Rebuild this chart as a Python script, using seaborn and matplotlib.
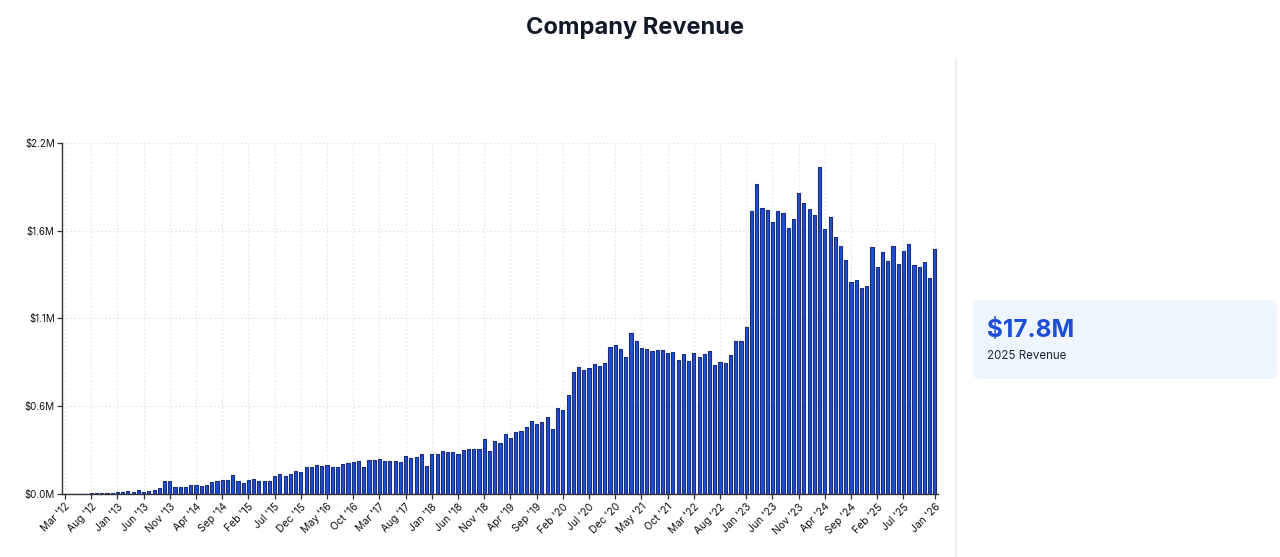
import matplotlib
matplotlib.use("Agg")
import matplotlib.pyplot as plt
from matplotlib.patches import FancyBboxPatch
import seaborn as sns
import pandas as pd

# monthly revenue, Mar 2012 .. Jan 2026, in $M
months = pd.date_range("2012-03-01", "2026-01-01", freq="MS").strftime("%b '%y").tolist()
revenue = [
    0.001, 0.001, 0.002, 0.002, 0.003, 0.004, 0.004, 0.006, 0.006, 0.008,
    0.010, 0.013, 0.019, 0.013, 0.023, 0.015, 0.019, 0.027, 0.036,
    0.082, 0.079, 0.046, 0.044, 0.044, 0.059, 0.059, 0.050, 0.056, 0.075,
    0.082, 0.086, 0.090, 0.117, 0.082, 0.071, 0.086, 0.096, 0.079, 0.079,
    0.082, 0.111, 0.123, 0.113, 0.127, 0.144, 0.138,
    0.169, 0.169, 0.180, 0.178, 0.180, 0.167, 0.171, 0.186, 0.196, 0.201,
    0.207, 0.167, 0.213, 0.211, 0.217, 0.209, 0.207, 0.209, 0.203, 0.238,
    0.224, 0.230, 0.253, 0.173, 0.249, 0.249, 0.270, 0.263, 0.261, 0.253,
    0.278, 0.280, 0.280, 0.284, 0.343, 0.267, 0.332, 0.322, 0.378, 0.353,
    0.387, 0.397, 0.420, 0.460,
    0.437, 0.449, 0.483, 0.408, 0.541, 0.525, 0.619, 0.765, 0.794, 0.777,
    0.792, 0.815, 0.805, 0.823, 0.922, 0.934, 0.909, 0.861, 1.011, 0.957,
    0.917, 0.911, 0.897, 0.903, 0.901, 0.884, 0.888, 0.838, 0.880, 0.832,
    0.882, 0.861, 0.876, 0.894, 0.809, 0.828, 0.821, 0.874, 0.957, 0.957,
    1.045,
    1.776, 1.944, 1.795, 1.781, 1.705, 1.772, 1.760, 1.668, 1.724, 1.885,
    1.822, 1.785, 1.751, 2.048, 1.661, 1.737, 1.609, 1.557, 1.467, 1.329,
    1.340, 1.292, 1.306, 1.549, 1.421, 1.519, 1.461, 1.555, 1.444, 1.521,
    1.569, 1.434, 1.423, 1.452, 1.356, 1.536,
]

x_tick_labels = [
    "Mar '12", "Aug '12", "Jan '13", "Jun '13", "Nov '13", "Apr '14", "Sep '14",
    "Feb '15", "Jul '15", "Dec '15", "May '16", "Oct '16", "Mar '17", "Aug '17",
    "Jan '18", "Jun '18", "Nov '18", "Apr '19", "Sep '19", "Feb '20", "Jul '20",
    "Dec '20", "May '21", "Oct '21", "Mar '22", "Aug '22", "Jan '23", "Jun '23",
    "Nov '23", "Apr '24", "Sep '24", "Feb '25", "Jul '25", "Jan '26",
]
y_ticks = [0, 0.55, 1.1, 1.65, 2.2]
y_tick_labels = ["$0.0M", "$0.6M", "$1.1M", "$1.6M", "$2.2M"]

kpi_value = "$17.8M"
kpi_label = "2025 Revenue"

sns.set_theme(style="white")
plt.rcParams["font.family"] = ["Inter", "DejaVu Sans"]

df = pd.DataFrame({"month": months, "revenue": revenue})

fig = plt.figure(figsize=(12.8, 5.57), dpi=100)
ax = fig.add_axes([0.04875, 0.1131, 0.6837, 0.6302])

sns.barplot(data=df, x="month", y="revenue", color="#1d4ed8",
            edgecolor="#1e2f7a", linewidth=0.8, width=0.6, saturation=1, ax=ax)
for bar in ax.patches:
    bar.set_joinstyle("round")

ax.set_xlim(-0.5, len(months) - 0.5)
ax.set_ylim(0, 2.2)
ax.set_xlabel("")
ax.set_ylabel("")

tick_pos = [months.index(lbl) for lbl in x_tick_labels]
ax.set_xticks(tick_pos)
ax.set_xticklabels(x_tick_labels, rotation=45, ha="right", rotation_mode="anchor",
                   fontsize=7.5, color="#111111")
ax.set_yticks(y_ticks)
ax.set_yticklabels(y_tick_labels, fontsize=7, color="#111111")
ax.tick_params(axis="both", length=3.5, width=0.9, color="#333333", pad=2,
               bottom=True, left=True)

ax.grid(True, color="#e3e3e3", linestyle=(0, (1.5, 2)), linewidth=0.8)
ax.set_axisbelow(True)
for side in ["top", "right"]:
    ax.spines[side].set_visible(False)
for side in ["left", "bottom"]:
    ax.spines[side].set_color("#333333")
    ax.spines[side].set_linewidth(1.0)

# overlay in pixel coords for title, divider and KPI card
ov = fig.add_axes([0, 0, 1, 1], zorder=-1)
ov.set_xlim(0, 1280)
ov.set_ylim(557, 0)
ov.axis("off")

ov.text(635, 28, "Company Revenue", ha="center", va="center",
        fontsize=17, fontweight="bold", color="#111827")
ov.plot([956, 956], [58, 557], color="#ececec", linewidth=1.2)

card = FancyBboxPatch((973, 300), 304, 79, boxstyle="round,pad=0,rounding_size=7",
                      facecolor="#eef5fe", edgecolor="none")
ov.add_patch(card)
ov.text(987, 337, kpi_value, ha="left", va="baseline",
        fontsize=17.5, fontweight="bold", color="#1d4ed8")
ov.text(987, 356, kpi_label, ha="left", va="center",
        fontsize=8.3, color="#1f2937")

fig.savefig("out.png", dpi=100)
plt.close(fig)
